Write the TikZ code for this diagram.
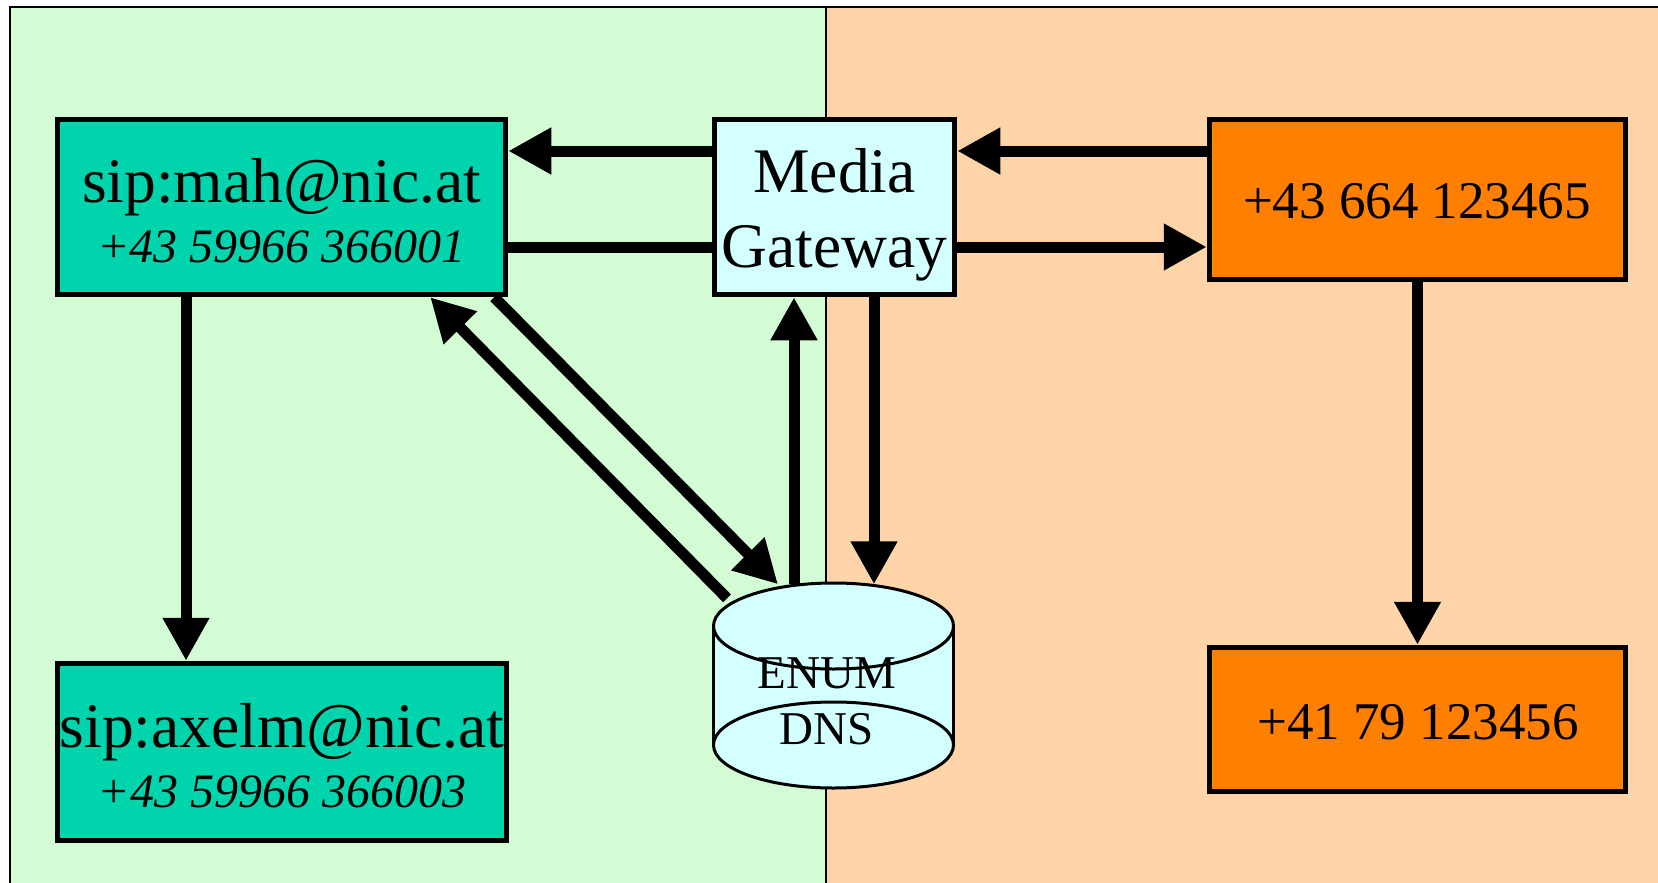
\documentclass[tikz,border=0pt]{standalone}
\usepackage{fontspec}
\setmainfont{Liberation Serif}
\usetikzlibrary{arrows.meta}
\definecolor{bggreen}{RGB}{212,252,212}
\definecolor{bgorange}{RGB}{255,212,168}
\definecolor{tealbox}{RGB}{0,212,172}
\definecolor{orangebox}{RGB}{255,127,0}
\definecolor{cyanbox}{RGB}{212,255,255}
\begin{document}
\begin{tikzpicture}[x=1pt,y=-1pt,
  box/.style={draw=black, line width=5.5pt, inner sep=0pt},
  arr/.style={line width=11pt, -{Triangle[length=43pt,width=44pt]}},
  plainline/.style={line width=11pt},
  cyl/.style={draw=black, line width=3pt},
  tbig/.style={font=\fontsize{63.5}{63}\selectfont, anchor=base, inner sep=0pt},
  tital/.style={font=\fontsize{48}{48}\selectfont\itshape, anchor=base, inner sep=0pt},
  tnum/.style={font=\fontsize{53}{53}\selectfont, anchor=base, inner sep=0pt},
  tdns/.style={font=\fontsize{47}{47}\selectfont, anchor=base, inner sep=0pt}]
\useasboundingbox (0,0) rectangle (1658,883);
\fill[white] (0,0) rectangle (1658,883);
\fill[bggreen] (10,7) rectangle (826,883);
\fill[bgorange] (826,7) rectangle (1658,883);
\draw[line width=1.5pt] (826,7) -- (826,883);
\draw[line width=2pt] (10,883) -- (10,7) -- (1658,7);

% boxes
\node[box, fill=tealbox, minimum width=448pt, minimum height=175pt] (mah) at (281.5,207) {};
\node[box, fill=tealbox, minimum width=449pt, minimum height=177pt] (axelm) at (282,752) {};
\node[box, fill=cyanbox, minimum width=240pt, minimum height=175pt] (mg) at (834.5,207) {};
\node[box, fill=orangebox, minimum width=416pt, minimum height=160pt] (at) at (1417.5,199.5) {};
\node[box, fill=orangebox, minimum width=416pt, minimum height=144pt] (ch) at (1417.5,719.5) {};

% cylinder
\node[inner sep=0pt, minimum width=240pt, minimum height=204pt] (enum) at (833.5,686.5) {};
\fill[cyanbox] (833.5,626) ellipse[x radius=120, y radius=43];
\fill[cyanbox] (713.5,626) rectangle (953.5,745);
\fill[cyanbox] (833.5,745) ellipse[x radius=120, y radius=43];
\draw[cyl] (833.5,626) ellipse[x radius=120, y radius=43];
\draw[cyl] (833.5,745) ellipse[x radius=120, y radius=43];
\draw[cyl] (713.5,626) -- (713.5,745);
\draw[cyl] (953.5,626) -- (953.5,745);

% texts
\node[tbig] (mah1) at (281.5,202) {sip:mah@nic.at};
\node[tital] (mah2) at (281.5,262) {+43 59966 366001};
\node[tbig] (axelm1) at (282,747) {sip:axelm@nic.at};
\node[tital] (axelm2) at (282,807) {+43 59966 366003};
\node[tbig] (mg1) at (834.5,192) {Media};
\node[tbig] (mg2) at (834.5,267) {Gateway};
\node[tnum] (at1) at (1417,218) {+43 664 123465};
\node[tnum] (ch1) at (1418,739) {+41 79 123456};
\node[tdns] (enum1) at (827,688) {ENUM};
\node[tdns] (enum2) at (827,744) {DNS};

% connectors
\draw[arr] ([yshift=56pt]mg.west) -- ([yshift=56pt]mah.east);
\draw[plainline] ([yshift=-40pt]mah.east) -- ([yshift=-40pt]mg.west);
\draw[arr] ([yshift=48.5pt]at.west) -- ([yshift=56pt]mg.east);
\draw[arr] ([yshift=-40pt]mg.east) -- ([yshift=-47.5pt]at.west);
\draw[arr] ([xshift=-95.5pt]mah.south) -- ([xshift=-96pt]axelm.north);
\draw[arr] (at.south) -- (ch.north);
\draw[arr] ([xshift=-14pt]mah.south east) -- ([xshift=-55.5pt]enum.north);
\draw[arr] ([xshift=-106.5pt,yshift=-14pt]enum.north) -- ([xshift=-78pt]mah.south east);
\draw[arr] ([xshift=-39.5pt]enum.north) -- ([xshift=-40.5pt]mg.south);
\draw[arr] ([xshift=39.5pt]mg.south) -- ([xshift=40.5pt]enum.north);
\end{tikzpicture}
\end{document}
